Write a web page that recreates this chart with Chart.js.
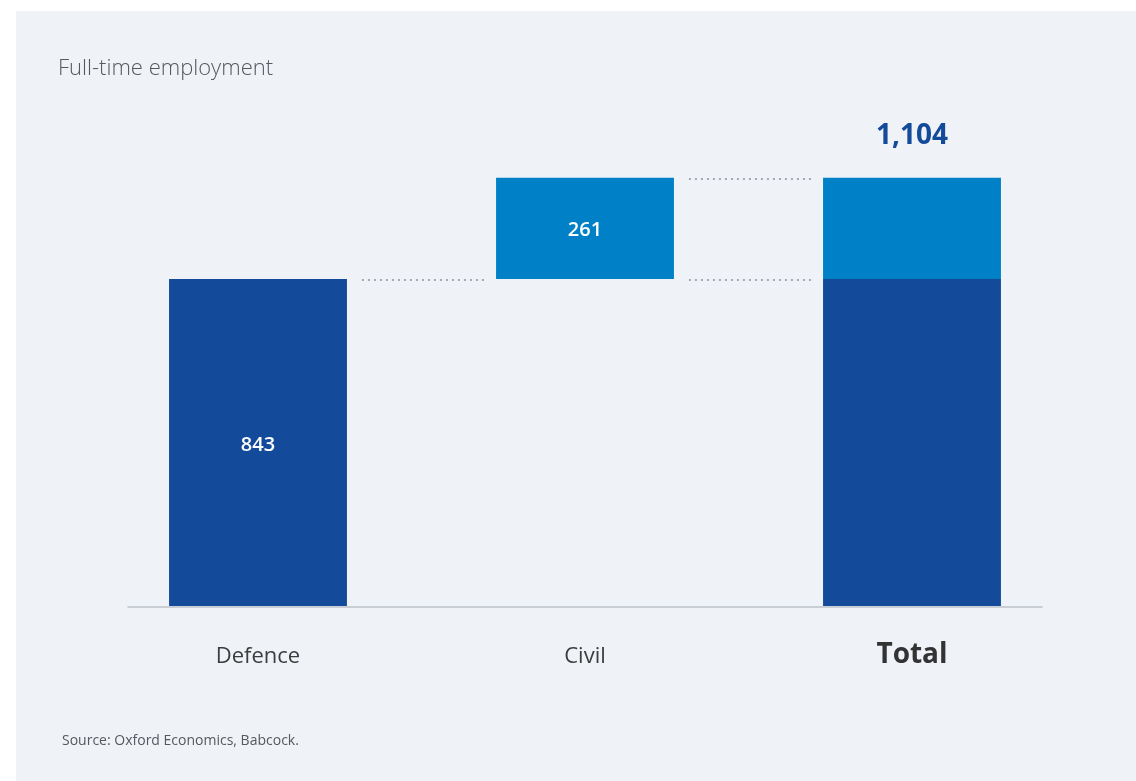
<!DOCTYPE html>
<html>
<head>
<meta charset="utf-8">
<script src="https://cdn.jsdelivr.net/npm/chart.js@4"></script>
<style>
    body { margin: 0; background: #fff; font-family: "Open Sans", sans-serif; }
    .panel { position: absolute; left: 16px; top: 11px; width: 1120px; height: 770px; background: #eff2f7; }
    .title { position: absolute; left: 42px; top: 40px; font-size: 22px; font-weight: 300; color: #55585d; }
    .source { position: absolute; left: 46px; top: 719px; font-size: 14px; color: #55585d; }
    .chartBox { position: absolute; left: 0; top: 0; width: 1120px; height: 770px; }
</style>
</head>
<body>
<div class="panel">
    <div class="chartBox"><canvas id="myChart"></canvas></div>
    <div class="title">Full-time employment</div>
    <div class="source">Source: Oxford Economics, Babcock.</div>
</div>
<script>
    const categories = ['Defence', 'Civil', 'Total'];
    const defenceJobs = 843;
    const civilJobs = 261;
    const totalJobs = defenceJobs + civilJobs;

    const darkBlue = '#134a9a';
    const lightBlue = '#0080c6';

    // floating bars: dark part for defence, light part for civil, both stacked in Total
    const darkData = [[0, defenceJobs], null, [0, defenceJobs]];
    const lightData = [null, [defenceJobs, totalJobs], [defenceJobs, totalJobs]];

    const ctx = document.getElementById('myChart');

    const waterfallExtras = {
        id: 'waterfallExtras',
        afterDatasetsDraw(chart) {
            const {ctx, scales: {x, y}, chartArea} = chart;
            const barMeta = chart.getDatasetMeta(0).data;
            const half = barMeta[0].width / 2;
            ctx.save();

            // baseline
            ctx.strokeStyle = '#c9cdd4';
            ctx.lineWidth = 2;
            ctx.beginPath();
            ctx.moveTo(chartArea.left + 33, y.getPixelForValue(0) + 1);
            ctx.lineTo(chartArea.right - 33, y.getPixelForValue(0) + 1);
            ctx.stroke();

            // dotted connectors
            ctx.strokeStyle = '#a4a9b2';
            ctx.lineWidth = 2;
            ctx.setLineDash([2, 4]);
            const connect = (from, to, value) => {
                const yy = Math.round(y.getPixelForValue(value)) + 1;
                ctx.beginPath();
                ctx.moveTo(x.getPixelForValue(from) + half + 15, yy);
                ctx.lineTo(x.getPixelForValue(to) - half - 10, yy);
                ctx.stroke();
            };
            connect(0, 1, defenceJobs);
            connect(1, 2, totalJobs);
            connect(1, 2, defenceJobs);
            ctx.setLineDash([]);

            // values
            ctx.textAlign = 'center';
            ctx.textBaseline = 'middle';
            ctx.fillStyle = '#ffffff';
            ctx.font = '600 20px "Open Sans"';
            ctx.fillText(String(defenceJobs), x.getPixelForValue(0), y.getPixelForValue(defenceJobs / 2) + 3);
            ctx.fillText(String(civilJobs), x.getPixelForValue(1), y.getPixelForValue(defenceJobs + civilJobs / 2) + 2);
            ctx.fillStyle = darkBlue;
            ctx.font = 'bold 28px "Open Sans"';
            ctx.fillText(totalJobs.toLocaleString('en-GB'), x.getPixelForValue(2), y.getPixelForValue(totalJobs) - 42);

            // category labels
            ctx.textBaseline = 'alphabetic';
            categories.forEach((c, i) => {
                const isTotal = i === categories.length - 1;
                ctx.fillStyle = isTotal ? '#333333' : '#3d3d3d';
                ctx.font = isTotal ? 'bold 28px "Open Sans"' : '22px "Open Sans"';
                ctx.fillText(c, x.getPixelForValue(i), y.getPixelForValue(0) + 57);
            });
            ctx.restore();
        }
    };

    new Chart(ctx, {
        type: 'bar',
        data: {
            labels: categories,
            datasets: [{
                data: darkData,
                backgroundColor: darkBlue,
                barPercentage: 1,
                categoryPercentage: 0.544,
            }, {
                data: lightData,
                backgroundColor: lightBlue,
                barPercentage: 1,
                categoryPercentage: 0.544,
            }]
        },
        plugins: [waterfallExtras],
        options: {
            maintainAspectRatio: false,
            responsive: true,
            animation: false,
            layout: {
                padding: {left: 78.5, right: 60.5, top: 109, bottom: 175}
            },
            plugins: {
                legend: {display: false},
                tooltip: {enabled: false}
            },
            scales: {
                x: {stacked: true, display: false},
                y: {min: 0, max: 1253, display: false}
            }
        }
    });
</script>
</body>
</html>
